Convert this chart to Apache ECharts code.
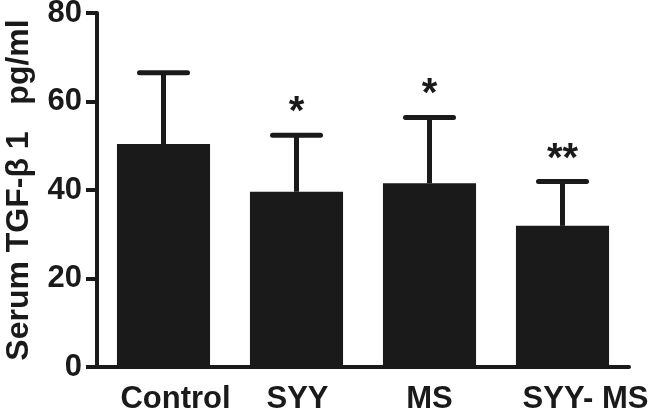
<!DOCTYPE html>
<html>
<head>
<meta charset="utf-8">
<script src="https://cdn.jsdelivr.net/npm/echarts@6/dist/echarts.min.js"></script>
<style>
  html, body { margin: 0; padding: 0; background: #fff; }
  #chart { width: 653px; height: 410px; }
</style>
</head>
<body>
<div id="chart"></div>
<script>
// values
const categories = ['Control', 'SYY', 'MS', 'SYY- MS'];
const means = [50.4, 39.6, 41.5, 31.9];
const sds = [16.1, 12.8, 14.9, 10.0];
const stars = ['', '*', '*', '**'];
const yTicks = [0, 20, 40, 60, 80];

// labels in the figure sit a little right of their ticks
const labelShift = [24, 2, 0, 46];

const ink = '#1a1a1a';
const font = 'Liberation Sans';

const chart = echarts.init(document.getElementById('chart'));

const errData = categories.map((c, i) => [i, means[i], means[i] + sds[i], stars[i]]);

const renderErr = (params, api) => {
  const base = api.coord([api.value(0), api.value(1)]);
  const top = api.coord([api.value(0), api.value(2)]);
  const half = 24;
  const star = stars[params.dataIndex];
  return {
    type: 'group',
    children: [
      {
        type: 'line',
        shape: { x1: base[0], y1: base[1], x2: top[0], y2: top[1] },
        style: { stroke: ink, lineWidth: 5 }
      },
      {
        type: 'line',
        shape: { x1: top[0] - half, y1: top[1], x2: top[0] + half, y2: top[1] },
        style: { stroke: ink, lineWidth: 5, lineCap: 'round' }
      },
      {
        type: 'text',
        style: {
          text: star,
          x: top[0],
          y: top[1] - 22,
          align: 'center',
          verticalAlign: 'middle',
          font: 'bold 40px "' + font + '"',
          fill: ink
        }
      }
    ]
  };
};

chart.setOption({
  animation: false,
  grid: { left: 97, right: 24, top: 13, bottom: 43, containLabel: false, outerBoundsMode: 'none' },
  xAxis: {
    type: 'category',
    data: categories.map((c, i) => ({ value: c, textStyle: { padding: [0, 0, 0, labelShift[i]] } })),
    axisLine: { lineStyle: { color: ink, width: 4 } },
    axisTick: { alignWithLabel: true, length: 12, lineStyle: { color: ink, width: 4 } },
    axisLabel: { interval: 0, color: ink, fontFamily: font, fontWeight: 'bold', fontSize: 31, margin: 17 }
  },
  yAxis: {
    type: 'value',
    min: yTicks[0],
    max: yTicks[yTicks.length - 1],
    interval: 20,
    name: 'Serum TGF-β 1   pg/ml',
    nameLocation: 'middle',
    nameGap: 62,
    nameTextStyle: { color: ink, fontFamily: font, fontWeight: 'bold', fontSize: 32 },
    splitLine: { show: false },
    axisLine: { show: true, lineStyle: { color: ink, width: 4 } },
    axisTick: { show: true, length: 11, lineStyle: { color: ink, width: 4 } },
    axisLabel: { color: ink, fontFamily: font, fontWeight: 'bold', fontSize: 31, margin: 15 }
  },
  series: [
    {
      type: 'bar',
      data: means,
      barWidth: '70%',
      itemStyle: { color: ink },
      z: 2
    },
    {
      type: 'custom',
      data: errData,
      encode: { x: 0, y: 2 },
      renderItem: renderErr,
      clip: false,
      z: 3
    }
  ]
});
</script>
</body>
</html>
